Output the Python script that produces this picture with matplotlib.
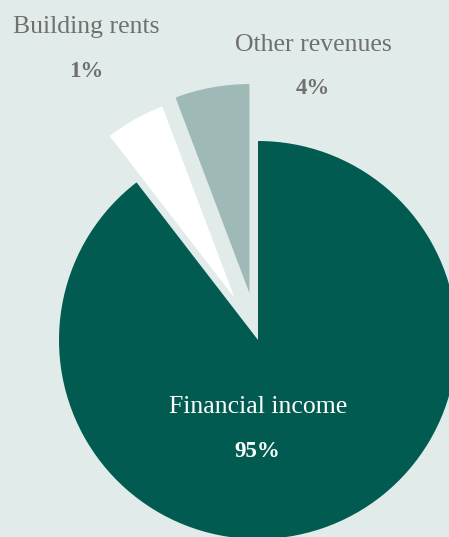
import matplotlib
matplotlib.use('Agg')
import matplotlib.pyplot as plt

# slice order: counter-clockwise from 12 o'clock
categories = ['Other revenues', 'Building rents', 'Financial income']
pct_labels = ['4%', '1%', '95%']
# wedge share as drawn in the picture (in % of the circle)
wedge_share = [5.75, 4.7, 89.55]
explode = [0.24, 0.24, 0.0]
colors = ['#9fb9b6', '#ffffff', '#015b51']
bg = '#e1ebe9'
grey_txt = '#707070'

W, H = 449, 537
fig = plt.figure(figsize=(W / 100, H / 100), dpi=100, facecolor=bg)
ax = fig.add_axes([0, 0, 1, 1])
ax.set_facecolor(bg)

wedges, _ = ax.pie(wedge_share, explode=explode, colors=colors, startangle=90,
                   counterclock=True, radius=1.0,
                   wedgeprops=dict(linewidth=0))
# the pulled-out slices are drawn a touch larger
wedges[0].set_radius(1.05)
wedges[1].set_radius(1.03)

# pie centre at (258, 340) px, radius 199 px
cx, cy, r = 258, 340, 199
ax.set_xlim(-cx / r, (W - cx) / r)
ax.set_ylim((cy - H) / r, cy / r)
ax.set_aspect('equal')
ax.axis('off')

font = ['Liberation Serif', 'DejaVu Serif']

def px(x, y):
    return x / W, 1 - y / H

fig.text(*px(86, 33), categories[1], ha='center', va='baseline',
         fontsize=18.5, color=grey_txt, family=font)
fig.text(*px(86, 77), pct_labels[1], ha='center', va='baseline',
         fontsize=16.5, color=grey_txt, family=font, fontweight='bold')
fig.text(*px(313, 51), categories[0], ha='center', va='baseline',
         fontsize=18.5, color=grey_txt, family=font)
fig.text(*px(313, 94), pct_labels[0], ha='center', va='baseline',
         fontsize=16.5, color=grey_txt, family=font, fontweight='bold')
fig.text(*px(258, 413), categories[2], ha='center', va='baseline',
         fontsize=18.5, color='white', family=font)
fig.text(*px(257, 457), pct_labels[2], ha='center', va='baseline',
         fontsize=16.5, color='white', family=font, fontweight='bold')

fig.savefig('out.png', dpi=100, facecolor=bg)
